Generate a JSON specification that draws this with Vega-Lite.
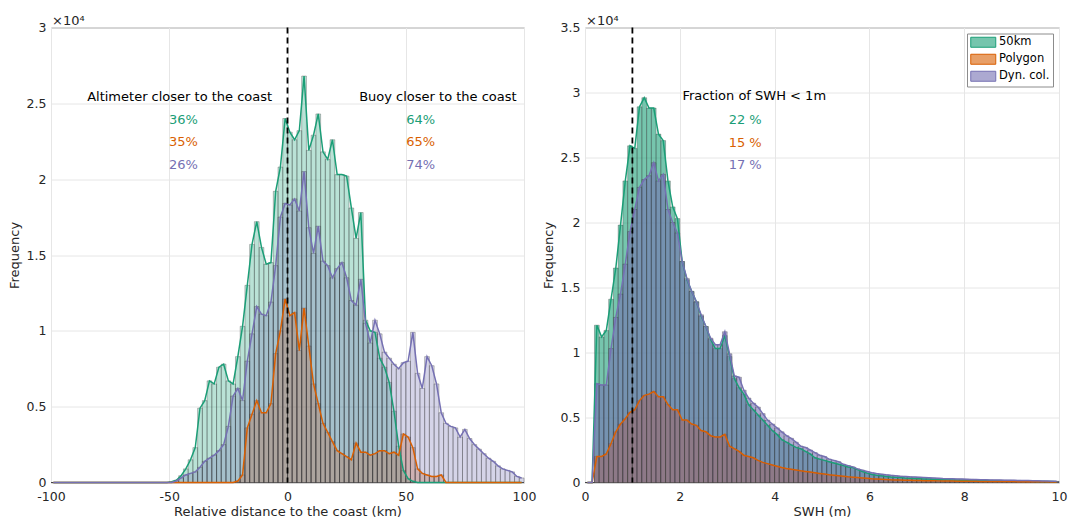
{
  "$schema": "https://vega.github.io/schema/vega-lite/v6.json",
  "padding": {"left": 7, "top": 13.5, "right": 4, "bottom": 0},
  "bounds": "flush",
  "spacing": 61,
  "config": {
    "font": "DejaVu Sans",
    "view": {"stroke": "#8c8c8c", "strokeWidth": 1},
    "axis": {"domain": false, "ticks": false, "grid": true, "gridColor": "#e6e6e6", "gridWidth": 1, "labelFontSize": 12.5, "labelColor": "#262626", "labelPadding": 5, "labelFlush": false, "labelOverlap": false, "titleFontSize": 13, "titleFontWeight": "normal", "titleColor": "#262626"},
    "axisY": {"titlePadding": 5},
    "axisX": {"titlePadding": 2.5, "labelPadding": 7.5}
  },
  "resolve": {"scale": {"x": "independent", "y": "independent", "color": "independent"}, "legend": {"color": "independent"}},
  "hconcat": [
    {
      "width": 473, "height": 455,
      "title": {"text": "×10⁴", "anchor": "start", "frame": "group", "fontSize": 13, "fontWeight": "normal", "offset": 0, "dy": 6, "dx": 1, "color": "#262626"},
      "data": {"values": [
        {"d":-99,"km50":0,"poly":0,"dyn":0},{"d":-97,"km50":0,"poly":0,"dyn":0},{"d":-95,"km50":0,"poly":0,"dyn":0},{"d":-93,"km50":0,"poly":0,"dyn":0},{"d":-91,"km50":0,"poly":0,"dyn":0},
        {"d":-89,"km50":0,"poly":0,"dyn":0},{"d":-87,"km50":0,"poly":0,"dyn":0},{"d":-85,"km50":0,"poly":0,"dyn":0},{"d":-83,"km50":0,"poly":0,"dyn":0},{"d":-81,"km50":0,"poly":0,"dyn":0},
        {"d":-79,"km50":0,"poly":0,"dyn":0},{"d":-77,"km50":0,"poly":0,"dyn":0},{"d":-75,"km50":0,"poly":0,"dyn":0},{"d":-73,"km50":0,"poly":0,"dyn":0},{"d":-71,"km50":0,"poly":0,"dyn":0},
        {"d":-69,"km50":0,"poly":0,"dyn":0},{"d":-67,"km50":0,"poly":0,"dyn":0},{"d":-65,"km50":0,"poly":0,"dyn":0},{"d":-63,"km50":0,"poly":0,"dyn":0},{"d":-61,"km50":0,"poly":0,"dyn":0},
        {"d":-59,"km50":0,"poly":0,"dyn":0},{"d":-57,"km50":0,"poly":0,"dyn":0},{"d":-55,"km50":0,"poly":0,"dyn":0},{"d":-53,"km50":0,"poly":0,"dyn":0},{"d":-51,"km50":0,"poly":0,"dyn":0},
        {"d":-49,"km50":50,"poly":0,"dyn":0},{"d":-47,"km50":150,"poly":0,"dyn":100},{"d":-45,"km50":450,"poly":0,"dyn":300},{"d":-43,"km50":900,"poly":0,"dyn":500},{"d":-41,"km50":1500,"poly":0,"dyn":600},
        {"d":-39,"km50":2300,"poly":0,"dyn":700},{"d":-37,"km50":4900,"poly":0,"dyn":1000},{"d":-35,"km50":5400,"poly":0,"dyn":1400},{"d":-33,"km50":6700,"poly":0,"dyn":1600},{"d":-31,"km50":6500,"poly":0,"dyn":1800},
        {"d":-29,"km50":7600,"poly":0,"dyn":2100},{"d":-27,"km50":7800,"poly":0,"dyn":2500},{"d":-25,"km50":6700,"poly":0,"dyn":3700},{"d":-23,"km50":6500,"poly":0,"dyn":5700},{"d":-21,"km50":8300,"poly":100,"dyn":6200},
        {"d":-19,"km50":10300,"poly":500,"dyn":5400},{"d":-17,"km50":13000,"poly":3600,"dyn":8000},{"d":-15,"km50":15700,"poly":4500,"dyn":9800},{"d":-13,"km50":17200,"poly":5400,"dyn":11600},{"d":-11,"km50":15500,"poly":4600,"dyn":11100},
        {"d":-9,"km50":14400,"poly":4600,"dyn":11000},{"d":-7,"km50":14500,"poly":5200,"dyn":11900},{"d":-5,"km50":19200,"poly":8500,"dyn":14300},{"d":-3,"km50":20800,"poly":10000,"dyn":17500},{"d":-1,"km50":24000,"poly":12100,"dyn":18400},
        {"d":1,"km50":23100,"poly":11000,"dyn":18300},{"d":3,"km50":22600,"poly":11200,"dyn":18700},{"d":5,"km50":23200,"poly":8700,"dyn":17900},{"d":7,"km50":26800,"poly":11500,"dyn":20500},{"d":9,"km50":21900,"poly":9000,"dyn":16800},
        {"d":11,"km50":22900,"poly":6500,"dyn":15100},{"d":13,"km50":24300,"poly":5200,"dyn":16900},{"d":15,"km50":21800,"poly":3900,"dyn":14600},{"d":17,"km50":21300,"poly":3300,"dyn":14300},{"d":19,"km50":22600,"poly":2700,"dyn":13500},
        {"d":21,"km50":20300,"poly":2100,"dyn":14100},{"d":23,"km50":20300,"poly":1900,"dyn":14500},{"d":25,"km50":20200,"poly":1700,"dyn":13500},{"d":27,"km50":18100,"poly":1500,"dyn":12000},{"d":29,"km50":16100,"poly":2600,"dyn":11700},
        {"d":31,"km50":17800,"poly":2000,"dyn":13400},{"d":33,"km50":10700,"poly":2000,"dyn":10500},{"d":35,"km50":10000,"poly":1800,"dyn":9200},{"d":37,"km50":9900,"poly":1900,"dyn":10700},{"d":39,"km50":8200,"poly":2100,"dyn":9800},
        {"d":41,"km50":7600,"poly":2100,"dyn":8600},{"d":43,"km50":6600,"poly":1900,"dyn":8200},{"d":45,"km50":4700,"poly":2000,"dyn":7800},{"d":47,"km50":2400,"poly":1800,"dyn":7500},{"d":49,"km50":800,"poly":3200,"dyn":7900},
        {"d":51,"km50":250,"poly":3000,"dyn":8000},{"d":53,"km50":80,"poly":2300,"dyn":9900},{"d":55,"km50":0,"poly":900,"dyn":7200},{"d":57,"km50":0,"poly":600,"dyn":6200},{"d":59,"km50":0,"poly":500,"dyn":8300},
        {"d":61,"km50":0,"poly":400,"dyn":7700},{"d":63,"km50":0,"poly":400,"dyn":6500},{"d":65,"km50":0,"poly":500,"dyn":4600},{"d":67,"km50":0,"poly":0,"dyn":3900},{"d":69,"km50":0,"poly":0,"dyn":3700},
        {"d":71,"km50":0,"poly":0,"dyn":3600},{"d":73,"km50":0,"poly":0,"dyn":3000},{"d":75,"km50":0,"poly":0,"dyn":3500},{"d":77,"km50":0,"poly":0,"dyn":2900},{"d":79,"km50":0,"poly":0,"dyn":2500},
        {"d":81,"km50":0,"poly":0,"dyn":2200},{"d":83,"km50":0,"poly":0,"dyn":1900},{"d":85,"km50":0,"poly":0,"dyn":1600},{"d":87,"km50":0,"poly":0,"dyn":1400},{"d":89,"km50":0,"poly":0,"dyn":1100},
        {"d":91,"km50":0,"poly":0,"dyn":900},{"d":93,"km50":0,"poly":0,"dyn":800},{"d":95,"km50":0,"poly":0,"dyn":700},{"d":97,"km50":0,"poly":0,"dyn":400},{"d":99,"km50":0,"poly":0,"dyn":300}
      ]},
      "layer": [
        {
          "transform": [{"fold": ["km50", "poly", "dyn"], "as": ["series", "n"]}],
          "mark": {"type": "bar", "width": 4.73, "fillOpacity": 0.3, "stroke": "#333333", "strokeOpacity": 0.45, "strokeWidth": 0.7},
          "encoding": {
            "x": {"field": "d", "type": "quantitative", "scale": {"domain": [-100, 100], "nice": false, "zero": false, "padding": 0}, "axis": {"values": [-100, -50, 0, 50, 100], "labelExpr": "'' + datum.value", "title": "Relative distance to the coast (km)"}},
            "y": {"field": "n", "type": "quantitative", "stack": null, "scale": {"domain": [0, 30000], "nice": false, "padding": 0}, "axis": {"values": [0, 5000, 10000, 15000, 20000, 25000, 30000], "labelExpr": "'' + datum.value / 10000", "title": "Frequency"}},
            "color": {"field": "series", "type": "nominal", "scale": {"domain": ["km50", "poly", "dyn"], "range": ["#1b9e77", "#d95f02", "#7570b3"]}, "legend": null}
          }
        },
        {
          "transform": [{"fold": ["km50", "poly", "dyn"], "as": ["series", "n"]}],
          "mark": {"type": "line", "strokeWidth": 1.5},
          "encoding": {
            "x": {"field": "d", "type": "quantitative"},
            "y": {"field": "n", "type": "quantitative"},
            "color": {"field": "series", "type": "nominal", "legend": null}
          }
        },
        {"data": {"values": [{}]}, "mark": {"type": "rule", "color": "black", "strokeDash": [6, 4], "strokeWidth": 1.8}, "encoding": {"x": {"datum": 0}}},
        {"data": {"values": [{}]}, "mark": {"type": "text", "fontSize": 13, "color": "#000000"}, "encoding": {"x": {"datum": -45.6}, "y": {"datum": 25400}, "text": {"value": "Altimeter closer to the coast"}}},
        {"data": {"values": [{}]}, "mark": {"type": "text", "fontSize": 13, "color": "#1b9e77"}, "encoding": {"x": {"datum": -44}, "y": {"datum": 23900}, "text": {"value": "36%"}}},
        {"data": {"values": [{}]}, "mark": {"type": "text", "fontSize": 13, "color": "#d95f02"}, "encoding": {"x": {"datum": -44}, "y": {"datum": 22450}, "text": {"value": "35%"}}},
        {"data": {"values": [{}]}, "mark": {"type": "text", "fontSize": 13, "color": "#7570b3"}, "encoding": {"x": {"datum": -44}, "y": {"datum": 20930}, "text": {"value": "26%"}}},
        {"data": {"values": [{}]}, "mark": {"type": "text", "fontSize": 13, "color": "#000000"}, "encoding": {"x": {"datum": 63.6}, "y": {"datum": 25400}, "text": {"value": "Buoy closer to the coast"}}},
        {"data": {"values": [{}]}, "mark": {"type": "text", "fontSize": 13, "color": "#1b9e77"}, "encoding": {"x": {"datum": 56.3}, "y": {"datum": 23900}, "text": {"value": "64%"}}},
        {"data": {"values": [{}]}, "mark": {"type": "text", "fontSize": 13, "color": "#d95f02"}, "encoding": {"x": {"datum": 56.3}, "y": {"datum": 22450}, "text": {"value": "65%"}}},
        {"data": {"values": [{}]}, "mark": {"type": "text", "fontSize": 13, "color": "#7570b3"}, "encoding": {"x": {"datum": 56.3}, "y": {"datum": 20930}, "text": {"value": "74%"}}}
      ]
    },
    {
      "width": 474, "height": 455,
      "title": {"text": "×10⁴", "anchor": "start", "frame": "group", "fontSize": 13, "fontWeight": "normal", "offset": 0, "dy": 6, "dx": 1, "color": "#262626"},
      "data": {"values": [
        {"d":0.05,"km50":0,"poly":0,"dyn":0},{"d":0.15,"km50":0,"poly":0,"dyn":0},{"d":0.25,"km50":12100,"poly":2000,"dyn":7600},{"d":0.35,"km50":11200,"poly":2000,"dyn":7500},{"d":0.45,"km50":11700,"poly":2200,"dyn":7500},
        {"d":0.55,"km50":14100,"poly":3000,"dyn":10300},{"d":0.65,"km50":16500,"poly":3900,"dyn":12700},{"d":0.75,"km50":19800,"poly":4500,"dyn":14500},{"d":0.85,"km50":23200,"poly":4900,"dyn":16800},{"d":0.95,"km50":25900,"poly":5400,"dyn":19300},
        {"d":1.05,"km50":25700,"poly":5600,"dyn":21000},{"d":1.15,"km50":28900,"poly":6300,"dyn":22700},{"d":1.25,"km50":29600,"poly":6700,"dyn":23300},{"d":1.35,"km50":28800,"poly":6800,"dyn":23600},{"d":1.45,"km50":28800,"poly":7000,"dyn":24600},
        {"d":1.55,"km50":26800,"poly":6600,"dyn":23200},{"d":1.65,"km50":26300,"poly":6600,"dyn":23700},{"d":1.75,"km50":23200,"poly":6000,"dyn":21000},{"d":1.85,"km50":21200,"poly":5600,"dyn":20000},{"d":1.95,"km50":20300,"poly":5600,"dyn":19200},
        {"d":2.05,"km50":17000,"poly":4800,"dyn":17000},{"d":2.15,"km50":15600,"poly":4800,"dyn":15700},{"d":2.25,"km50":14700,"poly":4500,"dyn":14700},{"d":2.35,"km50":13900,"poly":4400,"dyn":13900},{"d":2.45,"km50":12800,"poly":4000,"dyn":12900},
        {"d":2.55,"km50":12000,"poly":3900,"dyn":12000},{"d":2.65,"km50":11000,"poly":3600,"dyn":11100},{"d":2.75,"km50":10300,"poly":3500,"dyn":10600},{"d":2.85,"km50":10300,"poly":3500,"dyn":10600},{"d":2.95,"km50":11300,"poly":3700,"dyn":11600},
        {"d":3.05,"km50":9700,"poly":2800,"dyn":9900},{"d":3.15,"km50":8000,"poly":2600,"dyn":8200},{"d":3.25,"km50":7300,"poly":2400,"dyn":8100},{"d":3.35,"km50":6800,"poly":2100,"dyn":7100},{"d":3.45,"km50":6000,"poly":2000,"dyn":6500},
        {"d":3.55,"km50":5600,"poly":1900,"dyn":6100},{"d":3.65,"km50":5200,"poly":1700,"dyn":5800},{"d":3.75,"km50":4800,"poly":1550,"dyn":5300},{"d":3.85,"km50":4400,"poly":1450,"dyn":4800},{"d":3.95,"km50":4000,"poly":1350,"dyn":4500},
        {"d":4.05,"km50":3700,"poly":1250,"dyn":4200},{"d":4.15,"km50":3300,"poly":1150,"dyn":3900},{"d":4.25,"km50":3100,"poly":1080,"dyn":3600},{"d":4.35,"km50":2900,"poly":1020,"dyn":3400},{"d":4.45,"km50":2700,"poly":960,"dyn":3100},
        {"d":4.55,"km50":2600,"poly":900,"dyn":2800},{"d":4.65,"km50":2400,"poly":850,"dyn":2700},{"d":4.75,"km50":2200,"poly":800,"dyn":2500},{"d":4.85,"km50":1900,"poly":750,"dyn":2300},{"d":4.95,"km50":1800,"poly":700,"dyn":2100},
        {"d":5.05,"km50":1700,"poly":650,"dyn":2000},{"d":5.15,"km50":1600,"poly":600,"dyn":1800},{"d":5.25,"km50":1500,"poly":560,"dyn":1700},{"d":5.35,"km50":1400,"poly":520,"dyn":1600},{"d":5.45,"km50":1300,"poly":480,"dyn":1400},
        {"d":5.55,"km50":1200,"poly":440,"dyn":1300},{"d":5.65,"km50":1150,"poly":410,"dyn":1200},{"d":5.75,"km50":1000,"poly":380,"dyn":1050},{"d":5.85,"km50":850,"poly":350,"dyn":950},{"d":5.95,"km50":720,"poly":320,"dyn":850},
        {"d":6.05,"km50":620,"poly":290,"dyn":750},{"d":6.15,"km50":560,"poly":270,"dyn":690},{"d":6.25,"km50":510,"poly":250,"dyn":640},{"d":6.35,"km50":470,"poly":230,"dyn":590},{"d":6.45,"km50":430,"poly":210,"dyn":550},
        {"d":6.55,"km50":400,"poly":200,"dyn":520},{"d":6.65,"km50":380,"poly":190,"dyn":490},{"d":6.75,"km50":350,"poly":180,"dyn":470},{"d":6.85,"km50":330,"poly":170,"dyn":440},{"d":6.95,"km50":310,"poly":160,"dyn":420},
        {"d":7.05,"km50":290,"poly":150,"dyn":400},{"d":7.15,"km50":270,"poly":140,"dyn":380},{"d":7.25,"km50":260,"poly":135,"dyn":360},{"d":7.35,"km50":245,"poly":130,"dyn":340},{"d":7.45,"km50":230,"poly":125,"dyn":320},
        {"d":7.55,"km50":220,"poly":120,"dyn":300},{"d":7.65,"km50":210,"poly":115,"dyn":290},{"d":7.75,"km50":200,"poly":110,"dyn":280},{"d":7.85,"km50":190,"poly":105,"dyn":270},{"d":7.95,"km50":180,"poly":100,"dyn":260},
        {"d":8.05,"km50":170,"poly":95,"dyn":250},{"d":8.15,"km50":165,"poly":90,"dyn":240},{"d":8.25,"km50":160,"poly":88,"dyn":230},{"d":8.35,"km50":150,"poly":85,"dyn":220},{"d":8.45,"km50":145,"poly":82,"dyn":210},
        {"d":8.55,"km50":140,"poly":80,"dyn":200},{"d":8.65,"km50":130,"poly":78,"dyn":190},{"d":8.75,"km50":125,"poly":75,"dyn":185},{"d":8.85,"km50":120,"poly":72,"dyn":180},{"d":8.95,"km50":115,"poly":70,"dyn":175},
        {"d":9.05,"km50":110,"poly":68,"dyn":165},{"d":9.15,"km50":105,"poly":65,"dyn":160},{"d":9.25,"km50":100,"poly":62,"dyn":150},{"d":9.35,"km50":95,"poly":60,"dyn":145},{"d":9.45,"km50":90,"poly":58,"dyn":140},
        {"d":9.55,"km50":85,"poly":55,"dyn":130},{"d":9.65,"km50":80,"poly":52,"dyn":120},{"d":9.75,"km50":75,"poly":50,"dyn":110},{"d":9.85,"km50":70,"poly":48,"dyn":100},{"d":9.95,"km50":65,"poly":45,"dyn":90}
      ]},
      "layer": [
        {
          "transform": [{"fold": ["km50", "poly", "dyn"], "as": ["series", "n"]}],
          "mark": {"type": "bar", "width": 4.74, "fillOpacity": 0.6, "stroke": "#333333", "strokeOpacity": 0.45, "strokeWidth": 0.7},
          "encoding": {
            "x": {"field": "d", "type": "quantitative", "scale": {"domain": [0, 10], "nice": false, "zero": false, "padding": 0}, "axis": {"values": [0, 2, 4, 6, 8, 10], "title": "SWH (m)"}},
            "y": {"field": "n", "type": "quantitative", "stack": null, "scale": {"domain": [0, 35000], "nice": false, "padding": 0}, "axis": {"values": [0, 5000, 10000, 15000, 20000, 25000, 30000, 35000], "labelExpr": "'' + datum.value / 10000", "title": "Frequency"}},
            "color": {"field": "series", "type": "nominal", "scale": {"domain": ["km50", "poly", "dyn"], "range": ["#1b9e77", "#d95f02", "#7570b3"]},
              "legend": {"title": null, "orient": "top-right", "offset": 6, "padding": 3, "strokeColor": "#8c8c8c", "fillColor": "white", "labelFontSize": 11.5, "labelColor": "#000000", "symbolType": "M-1,-1H4V1H-1Z", "symbolSize": 100, "rowPadding": 2, "labelOffset": 17.5, "symbolStrokeColor": "#333333", "symbolStrokeWidth": 1,
                "labelExpr": "datum.label == 'km50' ? '50km' : datum.label == 'poly' ? 'Polygon' : 'Dyn. col.'",
                "encode": {"symbols": {"update": {"fillOpacity": {"value": 0.6}, "stroke": {"value": "#333333"}, "strokeWidth": {"value": 1}}}}}}
          }
        },
        {
          "transform": [{"fold": ["km50", "poly", "dyn"], "as": ["series", "n"]}],
          "mark": {"type": "line", "strokeWidth": 1.5},
          "encoding": {
            "x": {"field": "d", "type": "quantitative"},
            "y": {"field": "n", "type": "quantitative"},
            "color": {"field": "series", "type": "nominal"}
          }
        },
        {"data": {"values": [{}]}, "mark": {"type": "rule", "color": "black", "strokeDash": [6, 4], "strokeWidth": 1.8}, "encoding": {"x": {"datum": 1}}},
        {"data": {"values": [{}]}, "mark": {"type": "text", "fontSize": 13, "color": "#000000"}, "encoding": {"x": {"datum": 3.57}, "y": {"datum": 29700}, "text": {"value": "Fraction of SWH < 1m"}}},
        {"data": {"values": [{}]}, "mark": {"type": "text", "fontSize": 13, "color": "#1b9e77"}, "encoding": {"x": {"datum": 3.38}, "y": {"datum": 27900}, "text": {"value": "22 %"}}},
        {"data": {"values": [{}]}, "mark": {"type": "text", "fontSize": 13, "color": "#d95f02"}, "encoding": {"x": {"datum": 3.38}, "y": {"datum": 26150}, "text": {"value": "15 %"}}},
        {"data": {"values": [{}]}, "mark": {"type": "text", "fontSize": 13, "color": "#7570b3"}, "encoding": {"x": {"datum": 3.38}, "y": {"datum": 24430}, "text": {"value": "17 %"}}}
      ]
    }
  ]
}
